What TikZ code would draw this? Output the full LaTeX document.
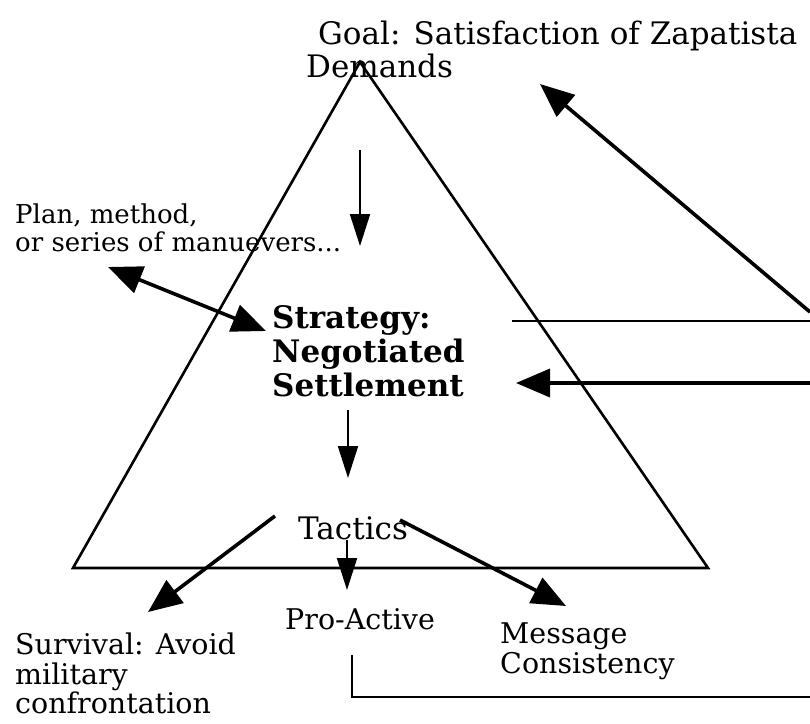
\documentclass[tikz,border=0pt]{standalone}
\usepackage{fontspec}
\setmainfont{DejaVu Serif}
\usetikzlibrary{arrows.meta}
\begin{document}
\begin{tikzpicture}[x=1pt,y=-1pt,
  lbl/.style={inner sep=0pt,anchor=base west,font=\fontsize{31}{36}\selectfont},
  small/.style={lbl,font=\fontsize{26}{30}\selectfont},
  mid/.style={lbl,font=\fontsize{28.5}{33}\selectfont},
  strat/.style={inner sep=0pt,anchor=base west,font=\fontsize{31}{36}\selectfont\bfseries},
  edge/.style={line width=2.6pt},
  conn/.style={line width=3.6pt,-{Triangle[length=34pt,width=28pt]}},
  thin/.style={line width=2pt,-{Triangle[length=32pt,width=20pt]}}]
\useasboundingbox (0,0) rectangle (810,723);

% pyramid
\coordinate (apex) at (360,62);
\coordinate (bl) at (73,568);
\coordinate (br) at (708,568);
\draw[edge,line join=miter] (apex) -- (bl) -- (br) -- cycle;

% labels
\node[lbl] (goal1) at (318,44) {Goal: Satisfaction of Zapatista};
\node[lbl] (goal2) at (306,77) {Demands};
\node[small] (plan1) at (15,223) {Plan, method,};
\node[small] (plan2) at (15,251) {or series of manuevers...};
\node[strat] (s1) at (272,328) {Strategy:};
\node[strat] (s2) at (272,362) {Negotiated};
\node[strat] (s3) at (272,396) {Settlement};
\node[lbl] (tac) at (298,539) {Tactics};
\node[mid] (pro) at (285,629) {Pro-Active};
\node[mid] (msg1) at (500,643) {Message};
\node[mid] (msg2) at (500,673) {Consistency};
\node[mid] (sur1) at (15,654) {Survival: Avoid};
\node[mid] (sur2) at (15,684) {military};
\node[mid] (sur3) at (15,713) {confrontation};

% connector ends
\coordinate (g0) at (360,150);
\coordinate (g1) at (360,246);
\coordinate (p0) at (108,267);
\coordinate (p1) at (266,331);
\coordinate (s0) at (348,410);
\coordinate (s4) at (348,478);
\coordinate (t0) at (275,516);
\coordinate (t1) at (148,612);
\coordinate (t2) at (347,540);
\coordinate (t3) at (347,590);
\coordinate (t4) at (400,520);
\coordinate (t5) at (566,606);
\coordinate (r0) at (512,321);
\coordinate (r1) at (810,321);
\coordinate (r2) at (810,383);
\coordinate (r3) at (516,383);
\coordinate (d0) at (810,312);
\coordinate (d1) at (540,84);
\coordinate (q0) at (352,655);
\coordinate (q1) at (352,697);
\coordinate (q2) at (810,697);

% connectors
\draw[thin] (g0) -- (g1);
\draw[conn,{Triangle[length=34pt,width=28pt]}-{Triangle[length=34pt,width=28pt]}] (p0) -- (p1);
\draw[thin] (s0) -- (s4);
\draw[conn] (t0) -- (t1);
\draw[thin] (t2) -- (t3);
\draw[conn] (t4) -- (t5);
\draw[edge] (r0) -- (r1);
\draw[conn] (r2) -- (r3);
\draw[conn] (d0) -- (d1);
\draw[edge] (q0) -- (q1) -- (q2);
\end{tikzpicture}
\end{document}
